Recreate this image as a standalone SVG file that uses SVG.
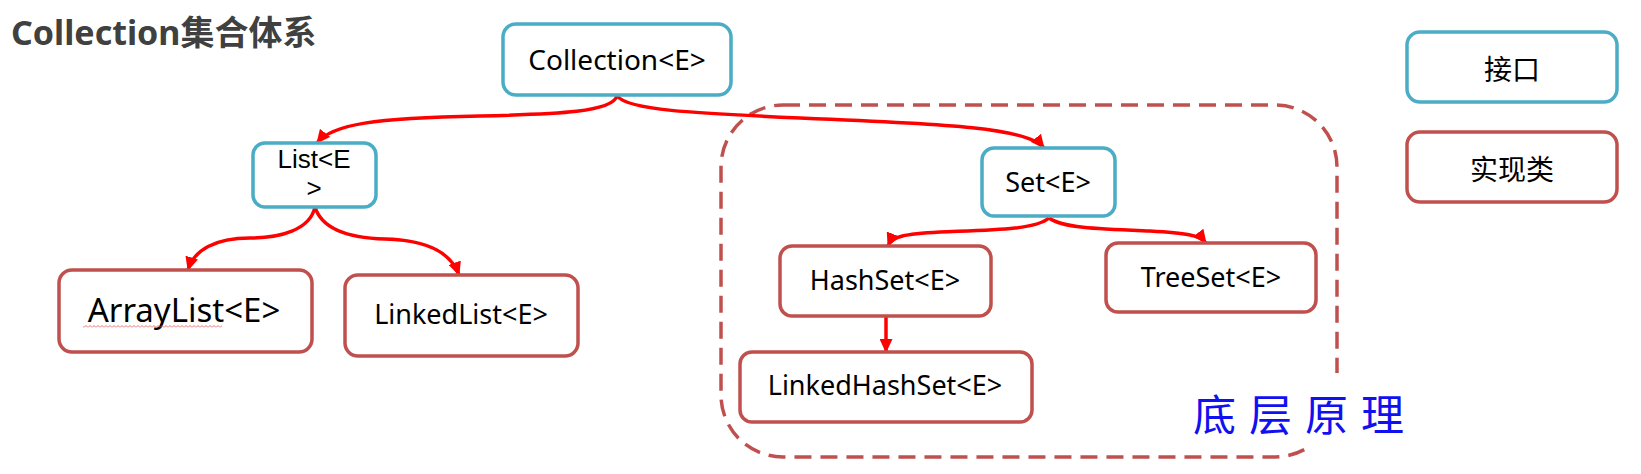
<svg xmlns="http://www.w3.org/2000/svg" width="1641" height="474" viewBox="0 0 1641 474">
<style>
.iface{fill:#ffffff;stroke:#4bacc6;stroke-width:3.5}
.impl{fill:#ffffff;stroke:#c0504d;stroke-width:3.5}
.lbl{font-family:"Noto Sans","Noto Sans CJK SC",sans-serif;font-size:27px;fill:#000000;text-anchor:middle}
.cjk{font-family:"Noto Sans CJK SC",sans-serif;font-size:28px;fill:#000000;text-anchor:middle}
.conn{fill:none;stroke:#ff0000;stroke-width:3.5;marker-end:url(#arr)}
</style>
<defs>
<marker id="arr" markerUnits="userSpaceOnUse" markerWidth="14" markerHeight="13" viewBox="0 0 14 13" refX="13" refY="6.5" orient="auto">
<path d="M0,0 L14,6.5 L0,13 z" fill="#ff0000"/>
</marker>
<pattern id="squiggle" patternUnits="userSpaceOnUse" x="0" y="325" width="4" height="3">
<polyline points="0,2.5 2,0.5 4,2.5" fill="none" stroke="#e05050" stroke-width="0.8"/>
</pattern>
</defs>
<rect width="1641" height="474" fill="#ffffff"/>

<text x="11" y="45" font-family="'Noto Sans','Noto Sans CJK SC',sans-serif" font-size="34" font-weight="bold" fill="#404040">Collection集合体系</text>

<g id="scope">
<rect x="721" y="105" width="616" height="352" rx="62" ry="62" fill="none" stroke="#c0504d" stroke-width="3.5" stroke-dasharray="17 9"/>
</g>

<g id="connectors">
<path class="conn" d="M617,96 C612,112 560,114 480,116 C375,118 332,124 317,143"/>
<path class="conn" d="M617,96 C628,110 690,113 800,118 C950,124 1028,128 1044,148"/>
<path class="conn" d="M315,207 C310,230 280,238 250,238 C215,238 194,250 188,270"/>
<path class="conn" d="M315,207 C322,230 350,238 385,239 C430,240 452,255 459,275"/>
<path class="conn" d="M1049,218 C1035,230 990,230 940,232 C905,234 892,236 888,246"/>
<path class="conn" d="M1049,218 C1062,228 1100,229 1150,231 C1185,233 1200,235 1206,243"/>
<path class="conn" d="M886,316 L886,352"/>
</g>

<g id="collection">
<rect class="iface" x="503" y="24" width="228" height="71" rx="13"/>
<text class="lbl" x="617" y="70" style="font-size:28px">Collection&lt;E&gt;</text>
</g>

<g id="list">
<rect class="iface" x="253" y="143" width="123" height="64" rx="12"/>
<text class="lbl" x="314" y="168" style="font-family:'Liberation Sans',sans-serif;font-size:26px">List&lt;E<tspan x="314" dy="29">&gt;</tspan></text>
</g>

<g id="arraylist">
<rect class="impl" x="59" y="270" width="253" height="82" rx="13"/>
<text class="lbl" x="184" y="322" style="font-size:33px">ArrayList&lt;E&gt;</text>
<rect x="83" y="325" width="139" height="3" fill="url(#squiggle)"/>
</g>

<g id="linkedlist">
<rect class="impl" x="345" y="275" width="233" height="81" rx="13"/>
<text class="lbl" x="461" y="324">LinkedList&lt;E&gt;</text>
</g>

<g id="set">
<rect class="iface" x="982" y="148" width="133" height="68" rx="12"/>
<text class="lbl" x="1048" y="192">Set&lt;E&gt;</text>
</g>

<g id="hashset">
<rect class="impl" x="780" y="246" width="211" height="70" rx="12"/>
<text class="lbl" x="885" y="290">HashSet&lt;E&gt;</text>
</g>

<g id="treeset">
<rect class="impl" x="1106" y="243" width="210" height="69" rx="12"/>
<text class="lbl" x="1211" y="287">TreeSet&lt;E&gt;</text>
</g>

<g id="linkedhashset">
<rect class="impl" x="740" y="352" width="292" height="70" rx="12"/>
<text class="lbl" x="885" y="395">LinkedHashSet&lt;E&gt;</text>
</g>

<g id="note">
<rect x="1185" y="373" width="225" height="73" fill="#ffffff"/>
<text x="1193" y="431" font-family="'Noto Sans CJK SC',sans-serif" font-size="43" letter-spacing="13" fill="#1010f0">底层原理</text>
</g>

<g id="legend-interface">
<rect class="iface" x="1407" y="32" width="210" height="70" rx="13"/>
<text class="cjk" x="1512" y="80">接口</text>
</g>

<g id="legend-impl">
<rect class="impl" x="1407" y="132" width="210" height="70" rx="13"/>
<text class="cjk" x="1512" y="180">实现类</text>
</g>
</svg>
